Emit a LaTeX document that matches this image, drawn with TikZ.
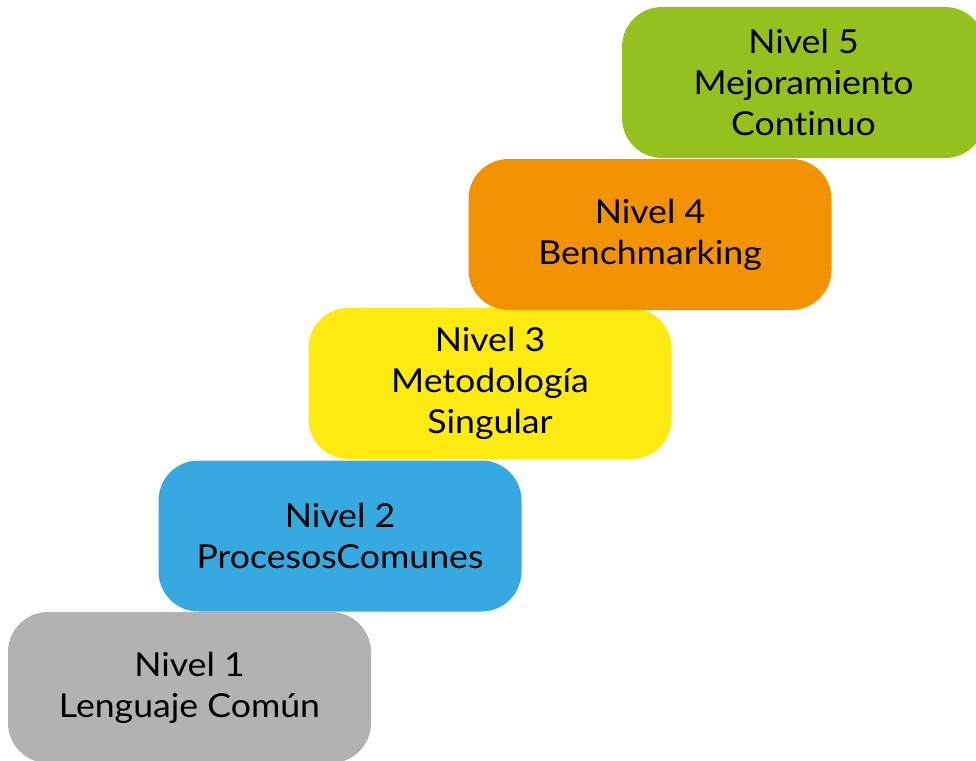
\documentclass[tikz,border=0pt]{standalone}
\usepackage{fontspec}
\setmainfont{Lato}[Ligatures=NoCommon, FakeStretch=1.08]
\definecolor{levelgray}{HTML}{B2B2B2}
\definecolor{levelblue}{HTML}{36A9E1}
\definecolor{levelyellow}{HTML}{FCEA10}
\definecolor{levelorange}{HTML}{F39200}
\definecolor{levelgreen}{HTML}{95C11F}
\tikzset{
  levelbox/.style={rounded corners=40pt, minimum width=363pt, minimum height=151pt,
    inner sep=0pt, align=center, text=black, font=\fontsize{33}{41}\selectfont}
}
\begin{document}
\begin{tikzpicture}[x=1pt,y=-1pt]
  \useasboundingbox (0,0) rectangle (976,760);
  \clip (0,0) rectangle (976,760);
  % staircase of maturity levels
  \node[levelbox, fill=levelgray]   (n1) at (189.5,687.5) {Nivel 1\\Lenguaje Común};
  \node[levelbox, fill=levelblue]   (n2) at (340,536)     {Nivel 2\\ProcesosComunes};
  \node[levelbox, fill=levelyellow] (n3) at (490,383.5)   {Nivel 3\\Metodología\\Singular};
  \node[levelbox, fill=levelorange] (n4) at (650,234.5)   {Nivel 4\\Benchmarking};
  \node[levelbox, fill=levelgreen]  (n5) at (803.5,82.5)  {Nivel 5\\Mejoramiento\\Continuo};
\end{tikzpicture}
\end{document}
